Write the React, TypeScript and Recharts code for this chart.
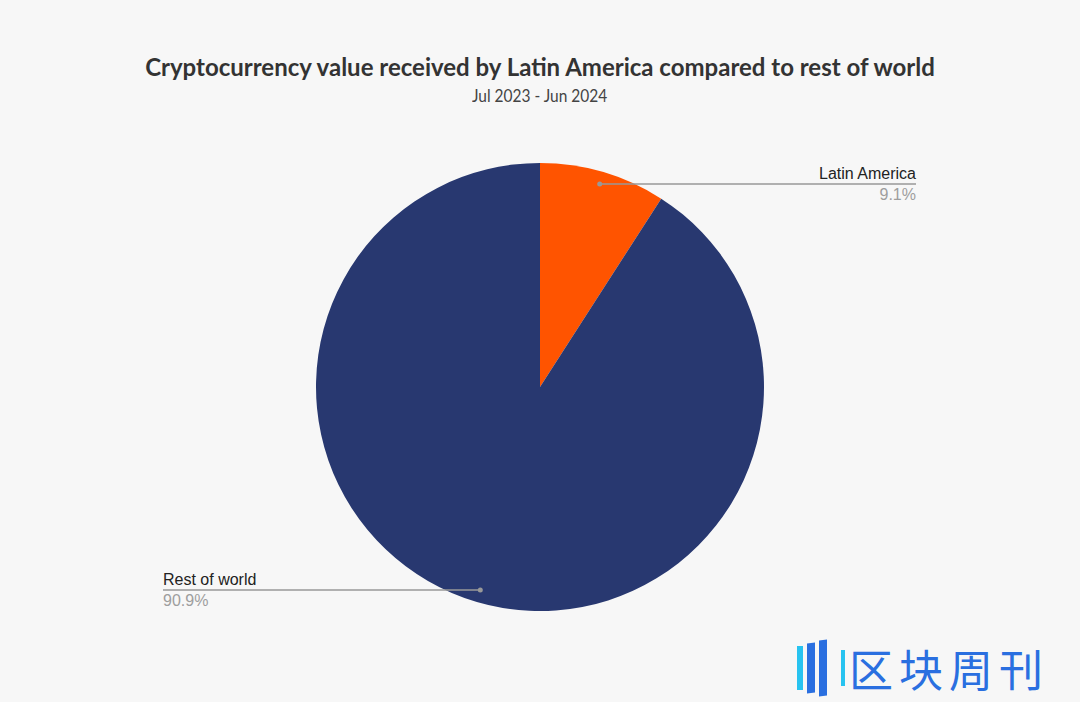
import React from "react";
import { PieChart, Pie, Cell } from "recharts";

const regions = ["Latin America", "Rest of world"];
const shares = [9.1, 90.9];
const COLORS = ["#ff5400", "#283870"];

const dados = regions.map((name, i) => ({ name, value: shares[i] }));

const RAD = Math.PI / 180;

// label com ponto, linha horizontal e texto acima/abaixo
const renderLabel = (props: any) => {
  const { cx, cy, midAngle, outerRadius, name, value } = props;
  const r = outerRadius * 0.945;
  const x = cx + r * Math.cos(-midAngle * RAD);
  const y = cy + r * Math.sin(-midAngle * RAD);
  const right = x > cx;
  const endX = right ? cx + 376 : cx - 377;
  const anchor = right ? "end" : "start";
  return (
    <g>
      <circle cx={x} cy={y} r={2.5} fill="#999" />
      <line x1={x} y1={y} x2={endX} y2={y} stroke="#999" strokeWidth={1.5} />
      <text x={endX} y={y - 5} textAnchor={anchor} fontSize={16} fill="#222" fontFamily="Liberation Sans, Arial, sans-serif">
        {name}
      </text>
      <text x={endX} y={y + 16} textAnchor={anchor} fontSize={16} fill="#9e9e9e" fontFamily="Liberation Sans, Arial, sans-serif">
        {value.toFixed(1)}%
      </text>
    </g>
  );
};

const App = () => {
  return (
    <div style={{ position: "absolute", top: 0, left: 0, width: 1080, height: 702, background: "#f7f7f7", overflow: "hidden" }}>
      <div style={{ position: "absolute", top: 52, left: 0, width: 1080, textAlign: "center", fontFamily: "Lato, sans-serif", fontWeight: 700, fontSize: 24, color: "#333" }}>
        Cryptocurrency value received by Latin America compared to rest of world
      </div>
      <div style={{ position: "absolute", top: 84, left: 0, width: 1080, textAlign: "center" }}>
        <span style={{ display: "inline-block", fontFamily: "Lato, sans-serif", fontSize: 18, color: "#444", transform: "scaleX(0.86)" }}>
          Jul 2023 - Jun 2024
        </span>
      </div>
      <div style={{ position: "absolute", top: 0, left: 0 }}>
        <PieChart width={1080} height={702} margin={{ top: 0, right: 0, bottom: 0, left: 0 }}>
          <Pie
            data={dados}
            dataKey="value"
            nameKey="name"
            cx={540}
            cy={387}
            outerRadius={224}
            startAngle={90}
            endAngle={-270}
            stroke="none"
            label={renderLabel}
            labelLine={false}
            isAnimationActive={false}
          >
            {dados.map((entry, index) => (
              <Cell key={`cell-${index}`} fill={COLORS[index % COLORS.length]} />
            ))}
          </Pie>
        </PieChart>
      </div>
      <div style={{ position: "absolute", left: 797, top: 640, display: "flex", alignItems: "center" }}>
        <div style={{ width: 6, height: 44, background: "#27c3f0", marginRight: 4 }} />
        <div style={{ width: 8, height: 50, background: "#2a6fe0", marginRight: 4, transform: "skewY(-8deg)" }} />
        <div style={{ width: 8, height: 56, background: "#2a6fe0", marginRight: 14, transform: "skewY(-8deg)" }} />
        <div style={{ width: 4, height: 36, background: "#27c3f0", marginRight: 4 }} />
        <div style={{ fontFamily: "Noto Sans CJK SC, sans-serif", fontSize: 44, color: "#2a6fe0", letterSpacing: 6, lineHeight: "50px" }}>
          区块周刊
        </div>
      </div>
    </div>
  );
};

export default App;
